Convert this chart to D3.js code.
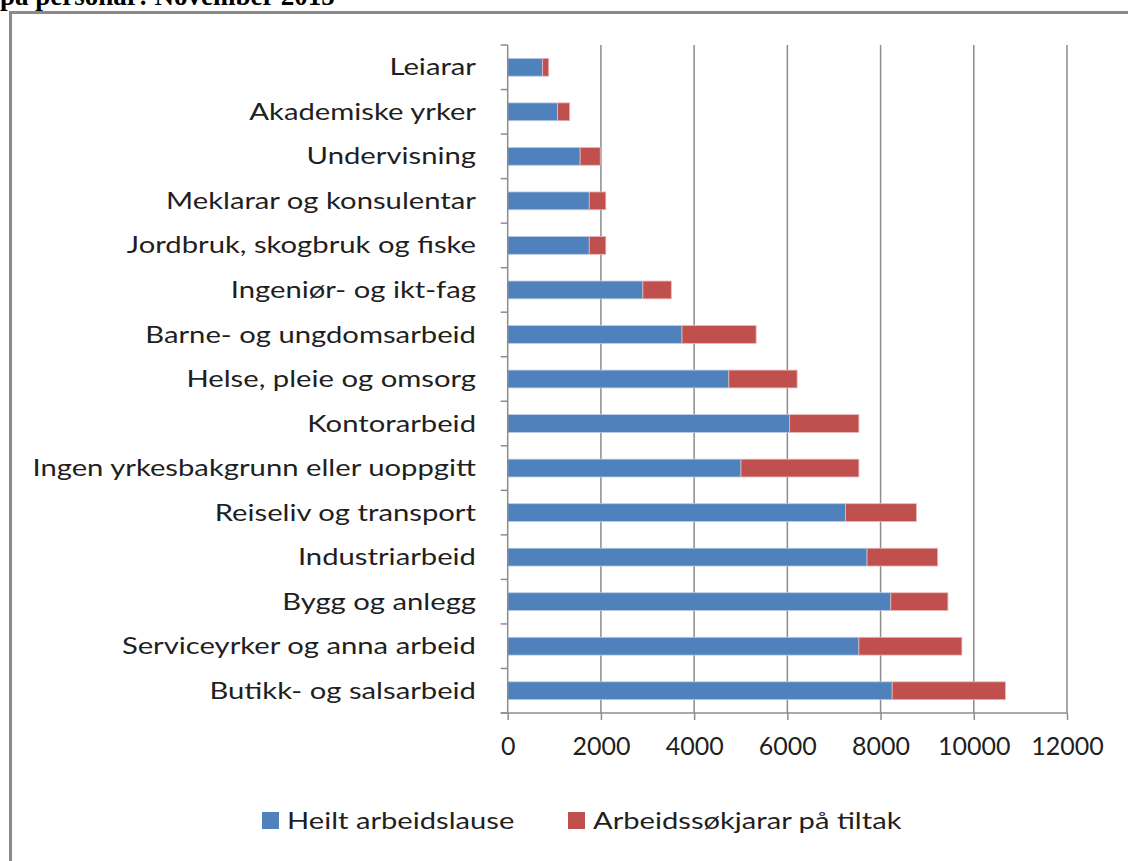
<!DOCTYPE html>
<html>
<head>
<meta charset="utf-8">
<script src="https://cdn.jsdelivr.net/npm/d3@7"></script>
<style>
  body { margin: 0; background: #fff; }
  svg { display: block; }
</style>
</head>
<body>
<div id="chart"></div>
<script>
// categories, top to bottom
let categories = [
  'Leiarar', 'Akademiske yrker', 'Undervisning', 'Meklarar og konsulentar',
  'Jordbruk, skogbruk og fiske', 'Ingeniør- og ikt-fag', 'Barne- og ungdomsarbeid',
  'Helse, pleie og omsorg', 'Kontorarbeid', 'Ingen yrkesbakgrunn eller uoppgitt',
  'Reiseliv og transport', 'Industriarbeid', 'Bygg og anlegg',
  'Serviceyrker og anna arbeid', 'Butikk- og salsarbeid'
];
let heilt   = [750, 1070, 1555, 1750, 1750, 2900, 3740, 4745, 6045, 5005, 7250, 7710, 8220, 7535, 8250];
let tiltak  = [130, 260, 430, 355, 355, 610, 1590, 1465, 1490, 2530, 1520, 1515, 1225, 2210, 2430];
let seriesNames = ['Heilt arbeidslause', 'Arbeidssøkjarar på tiltak'];
let xTicks = [0, 2000, 4000, 6000, 8000, 10000, 12000];

let width = 1128, height = 861;
let margin = { top: 45, bottom: 148, left: 507.7, right: 61 };
let colors = ['#4F81BD', '#C0504D'];
let font = 'Lato, "Open Sans", sans-serif';
let stretch = 1.3;      // category labels are wider than the font
let legendStretch = 1.24;

let svg = d3.select('#chart')
  .append('svg')
  .attr('width', width)
  .attr('height', height);

// title, cut off at the top of the picture
svg.append('text')
  .attr('x', 0)
  .attr('y', 5)
  .style('font-family', '"Liberation Serif", "Times New Roman", serif')
  .style('font-weight', 'bold')
  .style('font-size', '27px')
  .text('på personar: November 2015');

// chart frame
svg.append('path')
  .attr('d', `M10.5,${height + 5} V12.5 H${width + 5}`)
  .attr('fill', 'none')
  .attr('stroke', '#8a8a8a')
  .attr('stroke-width', 3);

let xScale = d3.scaleLinear()
  .domain([0, 12000])
  .range([margin.left, width - margin.right]);

let yScale = d3.scaleBand()
  .domain(categories)
  .range([margin.top, height - margin.bottom])
  .paddingInner(0.6)
  .paddingOuter(0.3);

let bottom = height - margin.bottom;

// gridlines
svg.append('g')
  .selectAll('line')
  .data(xTicks.slice(1))
  .enter()
  .append('line')
  .attr('x1', d => xScale(d))
  .attr('x2', d => xScale(d))
  .attr('y1', margin.top)
  .attr('y2', bottom)
  .attr('stroke', '#8c8c8c')
  .attr('stroke-width', 1.5);

// stacked bars
let stack = categories.map((c, i) => ({ cat: c, vals: [heilt[i], tiltak[i]] }));
stack.forEach(function(d) {
  let start = 0;
  d.vals.forEach(function(v, k) {
    svg.append('rect')
      .attr('x', xScale(start))
      .attr('y', yScale(d.cat))
      .attr('width', xScale(start + v) - xScale(start))
      .attr('height', yScale.bandwidth())
      .attr('fill', colors[k])
      .attr('stroke', k === 0 ? '#b9cde5' : '#e6b9b8')
      .attr('stroke-width', 0.8);
    start += v;
  });
});

// y axis (ticks between categories)
let yAxis = svg.append('g');
yAxis.append('line')
  .attr('x1', margin.left).attr('x2', margin.left)
  .attr('y1', margin.top).attr('y2', bottom)
  .attr('stroke', '#8c8c8c').attr('stroke-width', 1.5);
let bandTicks = d3.range(categories.length + 1).map(i => margin.top + i * (bottom - margin.top) / categories.length);
yAxis.selectAll('.tk')
  .data(bandTicks)
  .enter()
  .append('line')
  .attr('x1', margin.left - 7).attr('x2', margin.left)
  .attr('y1', d => d).attr('y2', d => d)
  .attr('stroke', '#8c8c8c').attr('stroke-width', 1.5);
yAxis.append('g')
  .attr('transform', `scale(${stretch},1)`)
  .selectAll('text')
  .data(categories)
  .enter()
  .append('text')
  .attr('x', 476 / stretch)
  .attr('y', d => yScale(d) + yScale.bandwidth() / 2)
  .attr('dy', '0.36em')
  .attr('text-anchor', 'end')
  .style('font-family', font)
  .style('font-size', '22.5px')
  .style('fill', '#1f1f1f')
  .text(d => d);

// x axis
let xAxis = svg.append('g')
  .attr('transform', `translate(0,${bottom})`)
  .call(d3.axisBottom(xScale).tickValues(xTicks).tickFormat(d3.format('d'))
    .tickSize(7).tickSizeOuter(0).tickPadding(17));
xAxis.select('.domain').remove();
xAxis.append('line')
  .attr('x1', margin.left - 7).attr('x2', xScale(12000))
  .attr('stroke', '#8c8c8c').attr('stroke-width', 1.5);
xAxis.selectAll('.tick line').attr('stroke', '#8c8c8c').attr('stroke-width', 1.5);
xAxis.selectAll('.tick text')
  .style('font-family', font)
  .style('font-size', '25px')
  .style('fill', '#1f1f1f');

// legend
let legendX = [262, 568];
let legend = svg.append('g');
seriesNames.forEach(function(name, k) {
  legend.append('rect')
    .attr('x', legendX[k]).attr('y', 812)
    .attr('width', 17).attr('height', 17)
    .attr('fill', colors[k]);
  legend.append('text')
    .attr('transform', `scale(${legendStretch},1)`)
    .attr('x', (legendX[k] + 25) / legendStretch).attr('y', 829)
    .style('font-family', font)
    .style('font-size', '23.5px')
    .style('fill', '#1f1f1f')
    .text(name);
});
</script>
</body>
</html>
